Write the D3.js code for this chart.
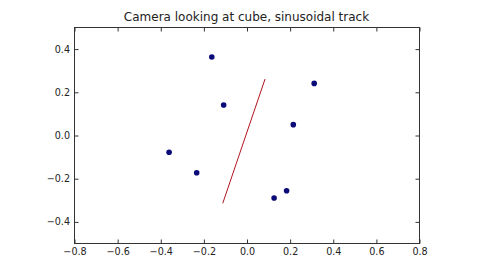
<!DOCTYPE html>
<html><head><meta charset="utf-8">
<script src="https://cdn.jsdelivr.net/npm/d3@7"></script>
<style>body{margin:0;background:#fff}svg{display:block}text{font-family:"DejaVu Sans",sans-serif;fill:#222}</style>
</head><body>
<script>
const pointsX = [-0.161, -0.106, 0.314, 0.217, -0.359, -0.231, 0.186, 0.128];
const pointsY = [0.361, 0.139, 0.239, 0.048, -0.080, -0.175, -0.258, -0.292];
const trackX = [-0.110, -0.012, 0.086];
const trackY = [-0.316, -0.028, 0.259];
const xTicks = [-0.8, -0.6, -0.4, -0.2, 0.0, 0.2, 0.4, 0.6, 0.8];
const yTicks = [-0.4, -0.2, 0.0, 0.2, 0.4];
const title = "Camera looking at cube, sinusoidal track";

const W = 480, H = 270;
const L = 74, R = 419, T = 27, B = 243;
const svg = d3.select("body").append("svg").attr("width", W).attr("height", H);
const x = d3.scaleLinear().domain([-0.8, 0.8]).range([L, R]);
const y = d3.scaleLinear().domain([-0.5, 0.5]).range([B, T]);
const fmt = d => d3.format(".1f")(d).replace("-", "\u2212");

// frame
svg.append("rect").attr("x", L + 0.5).attr("y", T + 0.5).attr("width", R - L).attr("height", B - T)
  .attr("fill", "none").attr("stroke", "#333").attr("stroke-width", 1);

function styleAxis(g) {
  g.select(".domain").remove();
  g.selectAll(".tick line").attr("stroke", "#333");
  g.selectAll(".tick text").attr("font-size", 9.6).attr("fill", "#333").attr("font-family", "DejaVu Sans");
}
// bottom
svg.append("g").attr("transform", `translate(0.5,${B + 0.5})`)
  .call(d3.axisBottom(x).tickValues(xTicks).tickFormat(fmt).tickSizeInner(-4).tickSizeOuter(0).tickPadding(4.5))
  .call(styleAxis);
svg.append("g").attr("transform", `translate(0.5,${T + 0.5})`)
  .call(d3.axisTop(x).tickValues(xTicks).tickFormat("").tickSizeInner(-4).tickSizeOuter(0))
  .call(styleAxis);
svg.append("g").attr("transform", `translate(${L + 0.5},0.5)`)
  .call(d3.axisLeft(y).tickValues(yTicks).tickFormat(fmt).tickSizeInner(-4).tickSizeOuter(0).tickPadding(4.5))
  .call(styleAxis);
svg.append("g").attr("transform", `translate(${R + 0.5},0.5)`)
  .call(d3.axisRight(y).tickValues(yTicks).tickFormat("").tickSizeInner(-4).tickSizeOuter(0))
  .call(styleAxis);

// track
const line = d3.line().x(d => x(d[0])).y(d => y(d[1]));
svg.append("path").datum(trackX.map((v, i) => [v, trackY[i]]))
  .attr("d", line).attr("fill", "none").attr("stroke", "#b3141e").attr("stroke-width", 1);

// points
svg.append("g").selectAll("circle").data(pointsX.map((v, i) => [v, pointsY[i]])).join("circle")
  .attr("cx", d => x(d[0])).attr("cy", d => y(d[1])).attr("r", 2.8).attr("fill", "#0a0a78");

svg.append("text").attr("x", (L + R) / 2).attr("y", 21).attr("text-anchor", "middle")
  .attr("font-size", 12).text(title);
</script>
</body></html>
